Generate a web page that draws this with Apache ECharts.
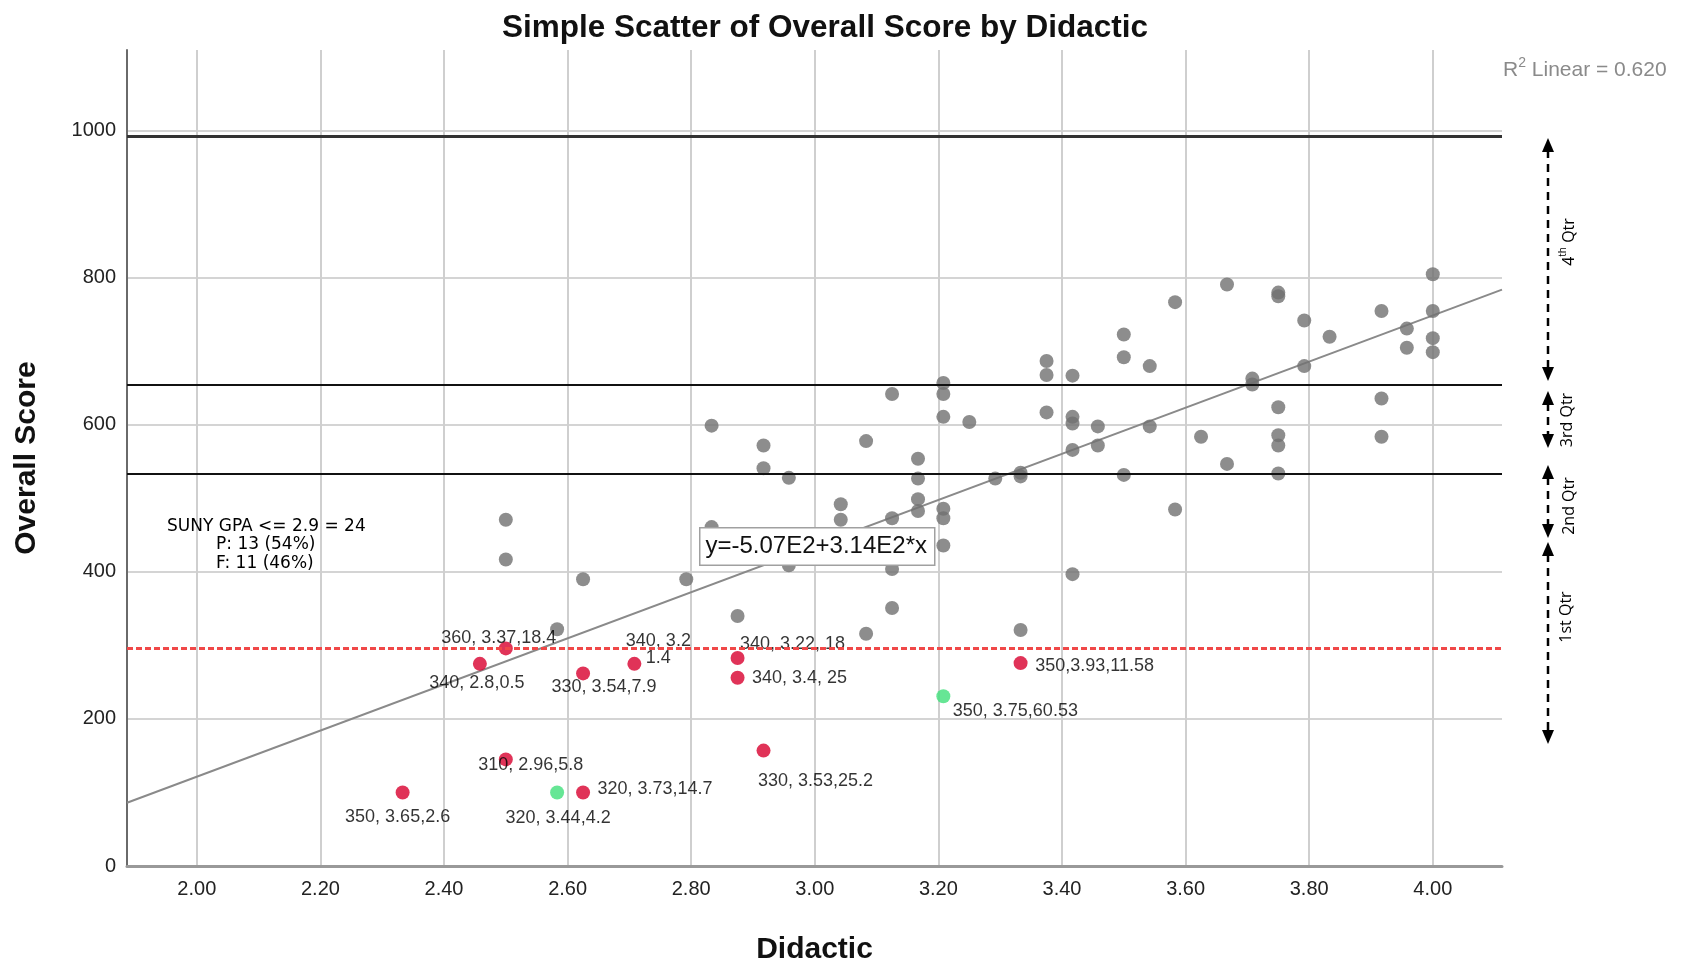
<!DOCTYPE html>
<html>
<head>
<meta charset="utf-8">
<title>Simple Scatter of Overall Score by Didactic</title>
<script src="https://cdn.jsdelivr.net/npm/echarts@6/dist/echarts.min.js"></script>
<style>
  html, body { margin: 0; padding: 0; background: #fff; }
  #main { width: 1687px; height: 962px; }
</style>
</head>
<body>
<div id="main"></div>
<script>
// grey cases: Didactic (x) and Overall Score (y)
var greyX = [2.500, 2.500, 2.583, 2.625, 2.792, 2.833, 2.833, 2.875, 2.917, 2.917,
             2.958, 2.958, 3.042, 3.042, 3.083, 3.083, 3.125, 3.125, 3.125, 3.125,
             3.167, 3.167, 3.167, 3.167, 3.208, 3.208, 3.208, 3.208, 3.208, 3.208,
             3.250, 3.292, 3.333, 3.333, 3.333, 3.375, 3.375, 3.375,
             3.417, 3.417, 3.417, 3.417, 3.417, 3.458, 3.458, 3.500, 3.500, 3.500,
             3.542, 3.542, 3.583, 3.583, 3.625, 3.667, 3.667, 3.708, 3.708,
             3.750, 3.750, 3.750, 3.750, 3.750, 3.750, 3.792, 3.792, 3.833,
             3.917, 3.917, 3.917, 3.958, 3.958, 4.000, 4.000, 4.000, 4.000];
var greyY = [471, 417, 322, 390, 390, 599, 461, 340, 572, 541,
             528, 409, 492, 471, 578, 316, 642, 473, 404, 351,
             554, 527, 499, 483, 657, 642, 611, 486, 473, 436,
             604, 527, 530, 535, 321, 687, 668, 617,
             667, 611, 602, 566, 397, 598, 572, 723, 692, 532,
             680, 598, 767, 485, 584, 791, 547, 663, 655,
             780, 775, 624, 586, 572, 534, 742, 680, 720,
             755, 636, 584, 731, 705, 805, 755, 718, 699];

// highlighted (red) cases
var redX = [2.500, 2.458, 2.625, 2.708, 2.875, 2.875, 2.500, 2.333, 2.625, 2.917, 3.333];
var redY = [296, 275, 262, 275, 283, 256, 145, 100, 100, 157, 276];
var redLabels = ['360, 3.37,18.4', '340, 2.8,0.5', '330, 3.54,7.9', '340, 3.2\n1.4',
                 '340, 3.22, 18', '340, 3.4, 25', '310, 2.96,5.8', '350, 3.65,2.6',
                 '320, 3.73,14.7', '330, 3.53,25.2', '350,3.93,11.58'];

// highlighted (green) cases
var greenX = [2.583, 3.208];
var greenY = [100, 231];
var greenLabels = ['320, 3.44,4.2', '350, 3.75,60.53'];

// fit line end points, reference lines
var fitX = [1.887, 4.112];
var fitY = [86, 784];
var cutLines = [993, 654, 534];
var passLine = 296;

var xTicks = [2.0, 2.2, 2.4, 2.6, 2.8, 3.0, 3.2, 3.4, 3.6, 3.8, 4.0];
var yTicks = [0, 200, 400, 600, 800, 1000];

// label placement (pixels from the dot centre)
var redLabelOffset = [[-7, -10], [-3, 19], [21, 14], [24, -14], [55, -14], [62, 0],
                      [25, 6], [-5, 25], [72, -3], [52, 30], [74, 3]];
var greenLabelOffset = [[1, 26], [72, 15]];

var FONT = '"Liberation Sans", Arial, sans-serif';

function onTick(list, v) {
  return list.some(function (t) { return Math.abs(t - v) < 1e-6; });
}

function pts(xs, ys, labels, offs) {
  return xs.map(function (x, i) {
    var d = { value: [x, ys[i]] };
    if (labels) {
      d.label = {
        show: true, position: 'inside', offset: offs[i],
        formatter: labels[i], color: '#000', fontSize: 18, lineHeight: 17,
        fontFamily: FONT
      };
    }
    return d;
  });
}

function arrow(x, y1, y2) {
  return [
    { type: 'line', z: 100, shape: { x1: x, y1: y1 + 12, x2: x, y2: y2 - 12 },
      style: { stroke: '#000', lineWidth: 2.5, lineDash: [8, 6] } },
    { type: 'polygon', z: 100, shape: { points: [[x, y1], [x - 6, y1 + 14], [x + 6, y1 + 14]] },
      style: { fill: '#000' } },
    { type: 'polygon', z: 100, shape: { points: [[x, y2], [x - 6, y2 - 14], [x + 6, y2 - 14]] },
      style: { fill: '#000' } }
  ];
}

function qtrText(x, y, rich) {
  return {
    type: 'text', z: 100, x: x, y: y, rotation: Math.PI / 2,
    style: {
      text: rich, align: 'center', verticalAlign: 'middle', fill: '#000',
      rich: {
        n: { fontSize: 16, fontFamily: '"Open Sans", "Noto Sans", sans-serif', lineHeight: 19, verticalAlign: 'bottom' },
        s: { fontSize: 10, fontFamily: '"Open Sans", "Noto Sans", sans-serif', verticalAlign: 'top' }
      }
    }
  };
}

var chart = echarts.init(document.getElementById('main'));

var graphics = []
  .concat(arrow(1548, 138, 381))
  .concat(arrow(1548, 391, 448))
  .concat(arrow(1548, 465, 538))
  .concat(arrow(1548, 542, 744))
  .concat([
    qtrText(1568, 242, '{n|4}{s|th}{n| Qtr}'),
    qtrText(1566, 420, '{n|3rd Qtr}'),
    qtrText(1568, 506, '{n|2nd Qtr}'),
    qtrText(1565, 617, '{n|1st Qtr}'),
    { type: 'text', z: 100, left: 1503, top: 56,
      style: {
        text: '{n|R}{s|2}{n| Linear = 0.620}', fill: '#8a8a8a',
        rich: {
          n: { fontSize: 21, fontFamily: FONT, fill: '#8a8a8a', lineHeight: 25, verticalAlign: 'bottom' },
          s: { fontSize: 14, fontFamily: FONT, fill: '#8a8a8a', verticalAlign: 'top' }
        }
      } },
    { type: 'text', z: 100, left: 699, top: 527,
      style: {
        text: 'y=-5.07E2+3.14E2*x', fontSize: 24, fontFamily: FONT, fill: '#111',
        backgroundColor: '#fff', borderColor: '#a0a0a0', borderWidth: 1.5,
        padding: [6, 7, 6, 5]
      } },
    { type: 'text', z: 100, left: 167, top: 518,
      style: { text: 'SUNY GPA <= 2.9 = 24', fontSize: 17, fontFamily: '"DejaVu Sans", sans-serif', fill: '#000' } },
    { type: 'text', z: 100, left: 216, top: 536,
      style: { text: 'P: 13 (54%)', fontSize: 17, fontFamily: '"DejaVu Sans", sans-serif', fill: '#000' } },
    { type: 'text', z: 100, left: 216, top: 555,
      style: { text: 'F: 11 (46%)', fontSize: 17, fontFamily: '"DejaVu Sans", sans-serif', fill: '#000' } }
  ]);

var option = {
  animation: false,
  backgroundColor: '#fff',
  title: {
    text: 'Simple Scatter of Overall Score by Didactic',
    left: 497, top: 7,
    textStyle: { fontSize: 31.5, fontWeight: 'bold', fontFamily: FONT, color: '#111' }
  },
  grid: { left: 127, right: 185, top: 50, bottom: 96, containLabel: false, outerBoundsMode: 'none' },
  xAxis: {
    type: 'value', min: 1.887, max: 4.112, minInterval: 0.2, maxInterval: 0.2,
    name: 'Didactic', nameLocation: 'middle', nameGap: 69,
    nameTextStyle: { fontSize: 30, fontWeight: 'bold', fontFamily: FONT, color: '#111' },
    axisLine: { show: true, lineStyle: { color: '#999', width: 3 } },
    axisTick: { show: false },
    axisLabel: {
      margin: 13, fontSize: 20, fontFamily: FONT, color: '#222',
      showMinLabel: false, showMaxLabel: false,
      formatter: function (v) { return onTick(xTicks, v) ? v.toFixed(2) : ''; }
    },
    splitLine: { show: true, showMinLine: false, showMaxLine: false,
                 lineStyle: { color: '#cfcfcf', width: 2 } }
  },
  yAxis: {
    type: 'value', min: 0, max: 1110, interval: 200,
    name: 'Overall Score', nameLocation: 'middle', nameGap: 85, nameRotate: 90,
    nameTextStyle: { fontSize: 30, fontWeight: 'bold', fontFamily: FONT, color: '#111' },
    axisLine: { show: true, lineStyle: { color: '#6a6a6a', width: 2 } },
    axisTick: { show: false },
    axisLabel: {
      margin: 11, fontSize: 20, fontFamily: FONT, color: '#222',
      padding: [9, 0, 0, 0],
      showMaxLabel: false,
      formatter: function (v) { return onTick(yTicks, v) ? String(v) : ''; }
    },
    splitLine: { show: true, showMinLine: false, showMaxLine: false,
                 lineStyle: { color: '#d4d4d4', width: 2 } }
  },
  series: [
    {
      name: 'Fit', type: 'line', z: 2, silent: true,
      data: fitX.map(function (x, i) { return [x, fitY[i]]; }),
      showSymbol: false,
      lineStyle: { color: '#8a8a8a', width: 2 },
      markLine: {
        silent: true, symbol: 'none', label: { show: false },
        data: cutLines.map(function (v, i) {
          return { yAxis: v, lineStyle: { color: i === 0 ? '#333' : '#111', width: i === 0 ? 3 : 2, type: 'solid' } };
        }).concat([{ yAxis: passLine, lineStyle: { color: '#f04848', width: 3, type: [6, 3] } }])
      }
    },
    {
      name: 'Cases', type: 'scatter', z: 3, symbolSize: 14,
      itemStyle: { color: '#707070' },
      data: pts(greyX, greyY)
    },
    {
      name: 'Red', type: 'scatter', z: 4, symbolSize: 14,
      itemStyle: { color: '#d8002e' },
      data: pts(redX, redY, redLabels, redLabelOffset)
    },
    {
      name: 'Green', type: 'scatter', z: 4, symbolSize: 14,
      itemStyle: { color: '#40e07a' },
      data: pts(greenX, greenY, greenLabels, greenLabelOffset)
    }
  ],
  graphic: { elements: graphics }
};

chart.setOption(option);
</script>
</body>
</html>
